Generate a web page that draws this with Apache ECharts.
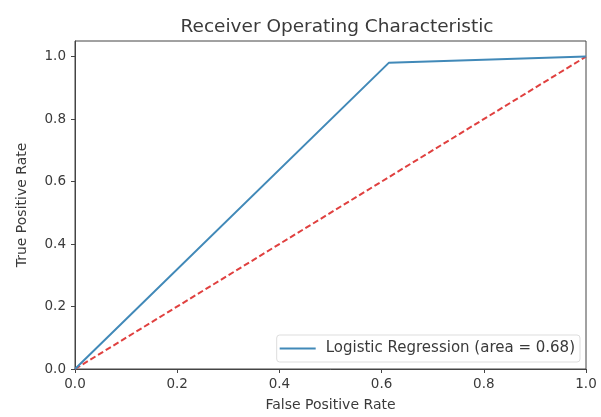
<!DOCTYPE html>
<html>
<head>
<meta charset="utf-8">
<script src="https://cdn.jsdelivr.net/npm/echarts@6/dist/echarts.min.js"></script>
<style>html,body{margin:0;padding:0;background:#fff;}#c{width:601px;height:417px;}</style>
</head>
<body>
<div id="c"></div>
<script>
var rocFpr = [0, 0.614, 1];
var rocTpr = [0, 0.98, 1];
var diagX = [0, 1];
var diagY = [0, 1];
var seriesName = 'Logistic Regression (area = 0.68)';
var titleText = 'Receiver Operating Characteristic';

var font = 'DejaVu Sans';
var txt = '#3a3a3a';
var chart = echarts.init(document.getElementById('c'), null, {renderer: 'canvas'});
chart.setOption({
  animation: false,
  backgroundColor: '#fff',
  title: {text: titleText, left: 332, top: 13, textAlign: 'center',
    textStyle: {fontFamily: font, fontSize: 18.5, fontWeight: 'normal', color: txt}},
  grid: {left: 75, right: 15, top: 41, bottom: 46, show: true, borderColor: '#444', borderWidth: 1, backgroundColor: 'transparent'},
  legend: {
    data: [seriesName], right: 21, top: 335, orient: 'vertical',
    backgroundColor: '#fff', borderColor: '#ddd', borderWidth: 1, borderRadius: 3,
    padding: [6, 5, 6, 3], itemWidth: 36, itemHeight: 2, itemGap: 4,
    textStyle: {fontFamily: font, fontSize: 15, color: txt, padding: [0, 0, 0, 5]},
    icon: 'rect'
  },
  xAxis: {type: 'value', min: 0, max: 1, interval: 0.2,
    name: 'False Positive Rate', nameLocation: 'middle', nameGap: 29,
    nameTextStyle: {fontFamily: font, fontSize: 14, color: txt},
    axisLine: {show: true, lineStyle: {color: '#444'}},
    axisTick: {show: true, inside: false, length: 4, lineStyle: {color: '#444'}},
    axisLabel: {fontFamily: font, fontSize: 13.5, color: txt, margin: 8, formatter: function(v){return v.toFixed(1);}},
    splitLine: {show: false}},
  yAxis: {type: 'value', min: 0, max: 1.05, interval: 0.2,
    name: 'True Positive Rate', nameLocation: 'middle', nameGap: 46,
    nameTextStyle: {fontFamily: font, fontSize: 14, color: txt},
    axisLine: {show: true, lineStyle: {color: '#444'}},
    axisTick: {show: true, inside: false, length: 4, lineStyle: {color: '#444'}},
    axisLabel: {fontFamily: font, fontSize: 13.5, color: txt, margin: 9, showMaxLabel: false,
      formatter: function(v){ var r = Math.round(v*10)/10; return Math.abs(r - v) < 1e-6 && Math.round(v*10)%2===0 ? v.toFixed(1) : ''; }},
    splitLine: {show: false}},
  series: [
    {name: seriesName, type: 'line', showSymbol: false, symbol: 'none',
      data: rocFpr.map(function(x, i){return [x, rocTpr[i]];}),
      lineStyle: {color: '#4189b8', width: 2}, itemStyle: {color: '#4189b8'}, z: 3},
    {name: 'diag', type: 'line', showSymbol: false, symbol: 'none',
      data: diagX.map(function(x, i){return [x, diagY[i]];}),
      lineStyle: {color: '#e0403f', width: 2, type: [6, 3]}, itemStyle: {color: '#e0403f'}, z: 2}
  ]
});
</script>
</body>
</html>
